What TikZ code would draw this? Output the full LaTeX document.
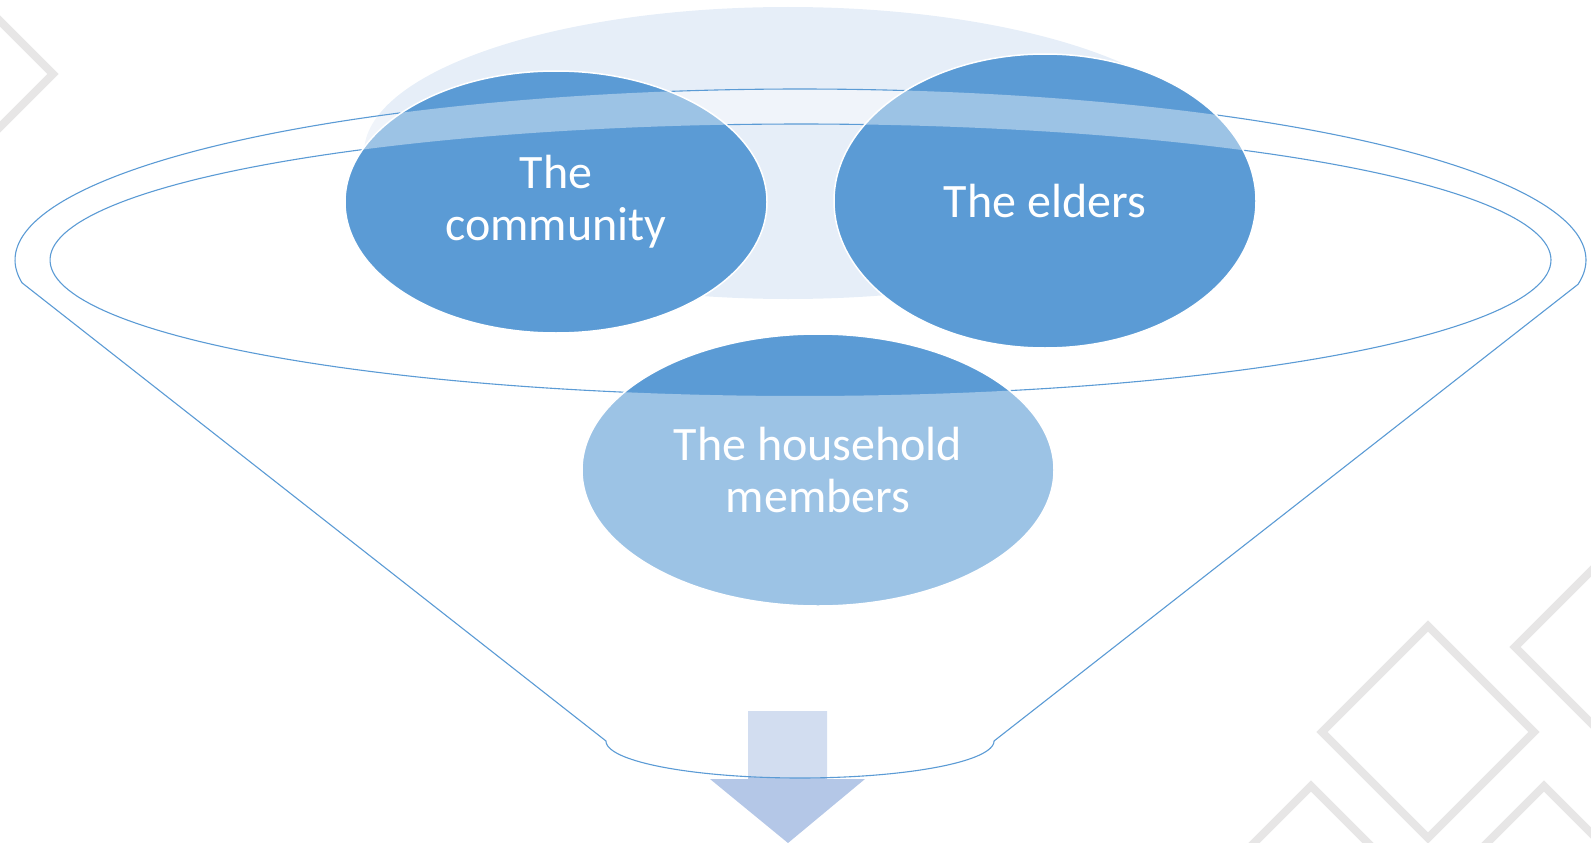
\documentclass[tikz,border=0pt]{standalone}
\usepackage{fontspec}
\setmainfont{Carlito}
\usetikzlibrary{shapes.geometric}
\definecolor{accent}{HTML}{5B9BD5}
\definecolor{paleback}{HTML}{E6EEF8}
\definecolor{arrowblue}{HTML}{B4C7E7}
\definecolor{decogrey}{HTML}{E7E6E6}
\begin{document}
\begin{tikzpicture}[x=1pt,y=-1pt,
  bubble/.style={ellipse, fill=accent, draw=white, line width=1.5pt, inner sep=0pt, text=white, align=center, font=\fontsize{48}{52}\selectfont},
  funnelline/.style={draw=accent, line width=1.1pt},
  deco/.style={draw=decogrey, line width=8pt, line join=miter}]
\useasboundingbox (0,0) rectangle (1591,843);
\clip (0,0) rectangle (1591,843);
% background decorations
\draw[deco] (-20,1) -- (53,74) -- (-20,147);
\draw[deco] (1428,626) -- (1534,732) -- (1428,838) -- (1322,732) -- cycle;
\draw[deco] (1205,892) -- (1311,786) -- (1417,892);
\draw[deco] (1438,892) -- (1544,786) -- (1650,892);
\draw[deco] (1615,547) -- (1515,647) -- (1615,747);
% pale back ellipse
\fill[paleback] (788,153) ellipse [x radius=424pt, y radius=146pt];
% arrow
\fill[arrowblue] (748,711) -- (827,711) -- (827,779) -- (865,779) -- (788,843) -- (710,779) -- (748,779) -- cycle;
% bubbles
\node[bubble, minimum width=422pt, minimum height=262pt] (comm) at (556,202) {The\\community};
\node[bubble, minimum width=422pt, minimum height=294pt] (elders) at (1045,201) {The elders};
\node[bubble, minimum width=472pt, minimum height=272pt] (house) at (818,470) {The household\\members};
% translucent funnel body
\fill[white, fill opacity=0.4, even odd rule]
  plot[domain=187.7:-8.2, samples=240] ({800.5+785.5*cos(\x)},{260-171*sin(\x)})
  -- plot[domain=360:180, samples=120] ({800+194*cos(\x)},{741-37*sin(\x)}) -- cycle
  plot[domain=0:360, samples=240] ({800.5+750.5*cos(\x)},{260-136*sin(\x)}) -- cycle;
% funnel outlines, hidden behind the bubbles
\begin{scope}[even odd rule]
\clip (-10,-10) rectangle (1601,853)
  (comm.center) ellipse [x radius=212pt, y radius=132pt]
  (elders.center) ellipse [x radius=212pt, y radius=148pt]
  (house.center) ellipse [x radius=237pt, y radius=137pt];
\draw[funnelline, line join=round]
  plot[domain=187.7:-8.2, samples=240] ({800.5+785.5*cos(\x)},{260-171*sin(\x)})
  -- plot[domain=360:180, samples=120] ({800+194*cos(\x)},{741-37*sin(\x)}) -- cycle;
\draw[funnelline]
  plot[domain=0:360, samples=240] ({800.5+750.5*cos(\x)},{260-136*sin(\x)}) -- cycle;
\end{scope}
\end{tikzpicture}
\end{document}
